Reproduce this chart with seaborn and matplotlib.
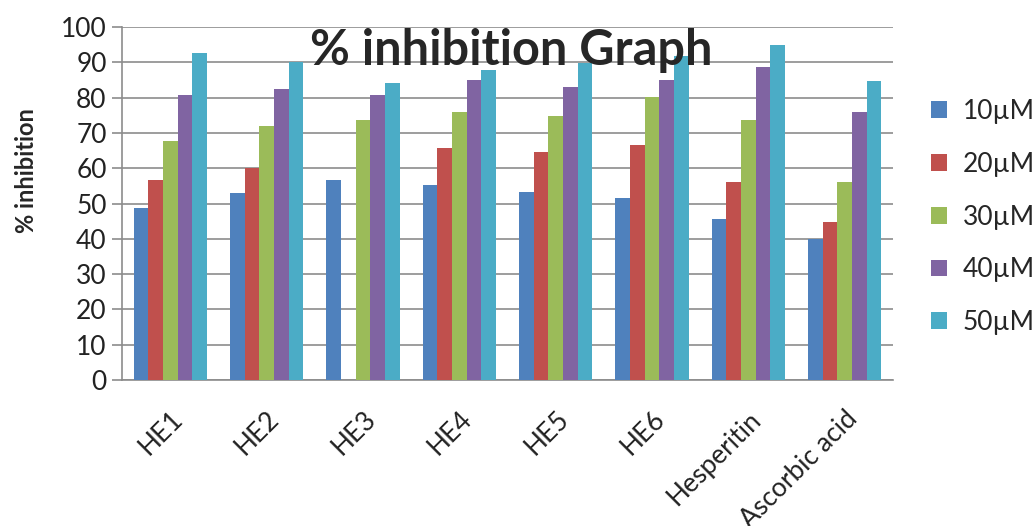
import numpy as np
import pandas as pd
import matplotlib
matplotlib.use("Agg")
import matplotlib.pyplot as plt
import seaborn as sns

# values
compounds = ["HE1", "HE2", "HE3", "HE4", "HE5", "HE6", "Hesperitin", "Ascorbic acid"]
doses = ["10\u00b5M", "20\u00b5M", "30\u00b5M", "40\u00b5M", "50\u00b5M"]
inh_10 = [48.8, 52.9, 56.7, 55.2, 53.2, 51.6, 45.7, 40.0]
inh_20 = [56.7, 60.1, 0.0, 65.8, 64.6, 66.6, 56.0, 44.9]
inh_30 = [67.8, 72.0, 73.7, 76.0, 74.8, 80.1, 73.7, 56.0]
inh_40 = [80.7, 82.3, 80.7, 85.1, 83.1, 85.1, 88.6, 76.0]
inh_50 = [92.5, 90.0, 84.0, 87.8, 89.9, 91.8, 95.0, 84.7]
yticks = list(range(0, 101, 10))

colors = ["#4F81BD", "#C0504D", "#9BBB59", "#8064A2", "#4BACC6"]

rows = []
for dose, vals in zip(doses, [inh_10, inh_20, inh_30, inh_40, inh_50]):
    for c, v in zip(compounds, vals):
        rows.append({"compound": c, "dose": dose, "inhibition": v})
df = pd.DataFrame(rows)

sns.set_style("white")
plt.rcParams["font.family"] = ["Lato", "DejaVu Sans"]

W, H = 1035, 526
fig = plt.figure(figsize=(W / 100, H / 100), dpi=100)
ax = fig.add_axes([122 / W, 1 - 380 / H, (893 - 122) / W, (380 - 27) / H])

sns.barplot(data=df, x="compound", y="inhibition", hue="dose", order=compounds,
            hue_order=doses, palette=colors, width=0.76, gap=0, saturation=1,
            errorbar=None, ax=ax, zorder=3, linewidth=0)

ax.set_xlim(-0.5, len(compounds) - 0.5)
ax.set_ylim(0, 100)
ax.set_yticks(yticks)
ax.set_yticklabels([str(t) for t in yticks], fontsize=19, color="#222222")
ax.yaxis.grid(True, color="#8c8c8c", linewidth=1.2, zorder=0)
ax.set_axisbelow(True)

# tick marks between groups, labels under group centres
ax.set_xticks(np.arange(-0.5, len(compounds)), labels=[""] * (len(compounds) + 1))
ax.set_xticks(np.arange(len(compounds)), labels=compounds, minor=True)
ax.tick_params(axis="x", which="major", length=9, width=1.2, color="#8c8c8c", direction="out")
ax.tick_params(axis="x", which="minor", length=0, labelsize=19, pad=19, labelcolor="#222222")
for lab in ax.get_xticklabels(minor=True):
    lab.set_rotation(45)
    lab.set_ha("right")
    lab.set_rotation_mode("anchor")
ax.tick_params(axis="y", length=7, width=1.2, color="#8c8c8c", direction="out", left=True, pad=4)

for s in ["top", "right"]:
    ax.spines[s].set_visible(False)
for s in ["left", "bottom"]:
    ax.spines[s].set_color("#8c8c8c")
    ax.spines[s].set_linewidth(1.2)

ax.set_xlabel("")
ax.set_ylabel("% inhibition", fontsize=17, fontweight="bold")
ax.yaxis.set_label_coords(-(122 - 38) / 771, (380 - 171) / 353)

fig.text(511 / W, 1 - 65 / H, "% inhibition Graph", fontsize=35, fontweight="bold",
         ha="center", va="baseline", zorder=5)

handles, labels = ax.get_legend_handles_labels()
ax.legend(handles, labels, loc="center left", bbox_to_anchor=((931 - 122) / 771, (380 - 217) / 353),
          frameon=False, fontsize=19, handlelength=0.6, handleheight=0.6,
          handletextpad=0.6, labelspacing=1.05, borderpad=0, borderaxespad=0)

fig.savefig("out.png", dpi=100)
